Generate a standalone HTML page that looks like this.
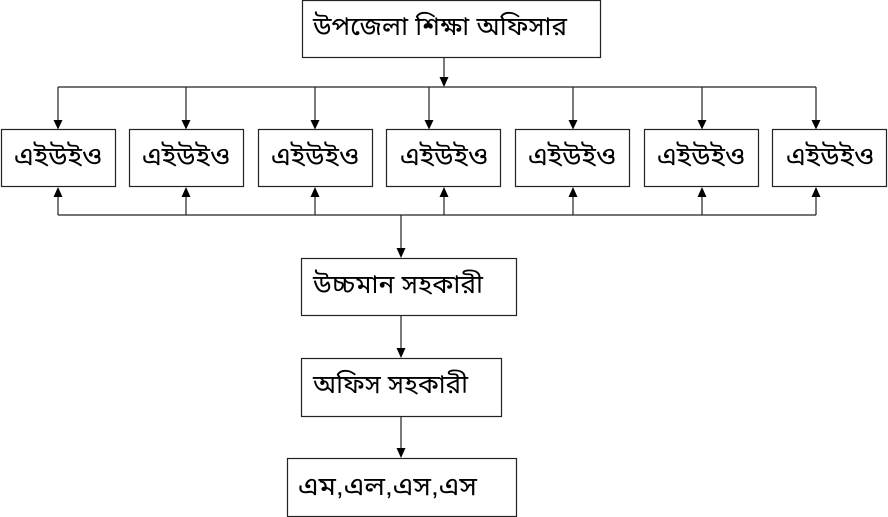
<!DOCTYPE html>
<html>
<head>
<meta charset="utf-8">
<style>
  html, body { margin: 0; padding: 0; background: #fff; }
  body { width: 888px; height: 517px; overflow: hidden; }
  svg { display: block; }
  text { font-family: "Liberation Sans", "Vrinda", "Noto Sans Bengali", "Lohit Bengali", "FreeSans", sans-serif; font-size: 26px; fill: #000; }
</style>
</head>
<body>
<svg width="888" height="517" viewBox="0 0 888 517" xmlns="http://www.w3.org/2000/svg">
  <g fill="#fff" stroke="#222" stroke-width="1.2">
    <rect x="302.5" y="0.5" width="298" height="57"/>
    <rect x="1.5" y="129.5" width="114" height="57"/>
    <rect x="129.5" y="129.5" width="114" height="57"/>
    <rect x="258.5" y="129.5" width="114" height="57"/>
    <rect x="386.5" y="129.5" width="114" height="57"/>
    <rect x="515.5" y="129.5" width="114" height="57"/>
    <rect x="644.5" y="129.5" width="114" height="57"/>
    <rect x="772.5" y="129.5" width="114" height="57"/>
    <rect x="301.5" y="258.5" width="215" height="57"/>
    <rect x="301.5" y="358.5" width="200" height="58"/>
    <rect x="287.5" y="458.5" width="229" height="58"/>
  </g>
  <g stroke="#222" stroke-width="1.2" fill="none">
    <line x1="444" y1="58" x2="444" y2="78"/>
    <line x1="58" y1="87" x2="816" y2="87"/>
    <line x1="58" y1="87" x2="58" y2="120"/>
    <line x1="186" y1="87" x2="186" y2="120"/>
    <line x1="315" y1="87" x2="315" y2="120"/>
    <line x1="429" y1="87" x2="429" y2="120"/>
    <line x1="573" y1="87" x2="573" y2="120"/>
    <line x1="702" y1="87" x2="702" y2="120"/>
    <line x1="816" y1="87" x2="816" y2="120"/>
    <line x1="58" y1="215" x2="816" y2="215"/>
    <line x1="58" y1="196" x2="58" y2="215"/>
    <line x1="186" y1="196" x2="186" y2="215"/>
    <line x1="315" y1="196" x2="315" y2="215"/>
    <line x1="444" y1="196" x2="444" y2="215"/>
    <line x1="573" y1="196" x2="573" y2="215"/>
    <line x1="702" y1="196" x2="702" y2="215"/>
    <line x1="816" y1="196" x2="816" y2="215"/>
    <line x1="401" y1="215" x2="401" y2="249"/>
    <line x1="401" y1="316" x2="401" y2="349"/>
    <line x1="401" y1="417" x2="401" y2="449"/>
  </g>
  <g fill="#000">
    <polygon points="439.5,77 448.5,77 444,87"/>
    <polygon points="53.5,120 62.5,120 58,129.5"/>
    <polygon points="181.5,120 190.5,120 186,129.5"/>
    <polygon points="310.5,120 319.5,120 315,129.5"/>
    <polygon points="424.5,120 433.5,120 429,129.5"/>
    <polygon points="568.5,120 577.5,120 573,129.5"/>
    <polygon points="697.5,120 706.5,120 702,129.5"/>
    <polygon points="811.5,120 820.5,120 816,129.5"/>
    <polygon points="53.5,197 62.5,197 58,187"/>
    <polygon points="181.5,197 190.5,197 186,187"/>
    <polygon points="310.5,197 319.5,197 315,187"/>
    <polygon points="439.5,197 448.5,197 444,187"/>
    <polygon points="568.5,197 577.5,197 573,187"/>
    <polygon points="697.5,197 706.5,197 702,187"/>
    <polygon points="811.5,197 820.5,197 816,187"/>
    <polygon points="396.5,248 405.5,248 401,258"/>
    <polygon points="396.5,348 405.5,348 401,358"/>
    <polygon points="396.5,448 405.5,448 401,458"/>
  </g>
  <text x="313" y="35" textLength="254" lengthAdjust="spacingAndGlyphs">উপজেলা শিক্ষা অফিসার</text>
  <text x="14" y="165" textLength="88" lengthAdjust="spacingAndGlyphs">এইউইও</text>
  <text x="142" y="165" textLength="88" lengthAdjust="spacingAndGlyphs">এইউইও</text>
  <text x="271" y="165" textLength="88" lengthAdjust="spacingAndGlyphs">এইউইও</text>
  <text x="400" y="165" textLength="88" lengthAdjust="spacingAndGlyphs">এইউইও</text>
  <text x="528" y="165" textLength="88" lengthAdjust="spacingAndGlyphs">এইউইও</text>
  <text x="657" y="165" textLength="88" lengthAdjust="spacingAndGlyphs">এইউইও</text>
  <text x="786" y="165" textLength="88" lengthAdjust="spacingAndGlyphs">এইউইও</text>
  <text x="313" y="293" textLength="170" lengthAdjust="spacingAndGlyphs">উচ্চমান সহকারী</text>
  <text x="313" y="393" textLength="155" lengthAdjust="spacingAndGlyphs">অফিস সহকারী</text>
  <text x="298" y="495" textLength="179" lengthAdjust="spacingAndGlyphs">এম,এল,এস,এস</text>
</svg>
</body>
</html>
